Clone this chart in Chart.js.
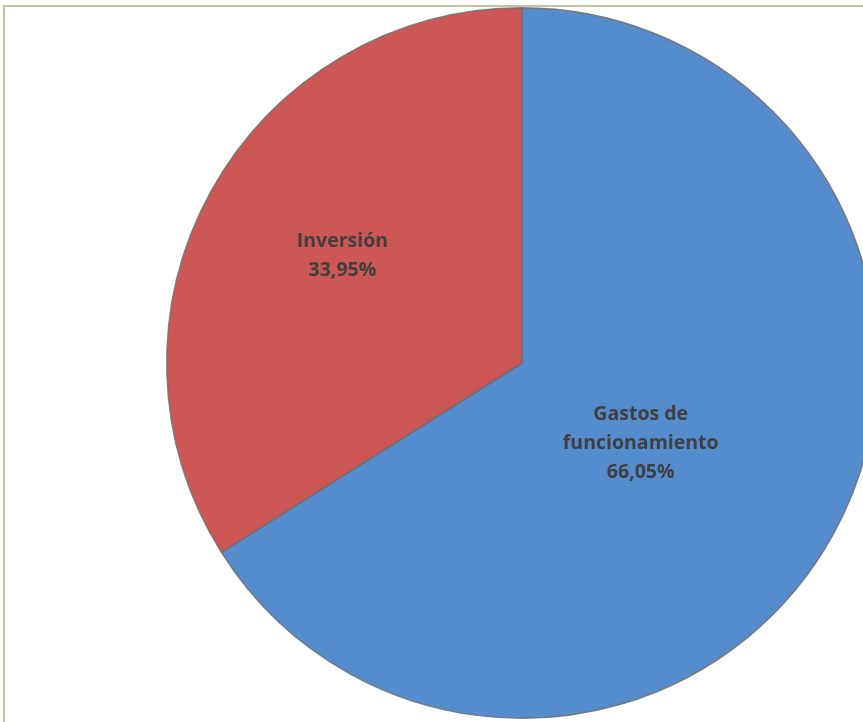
<!DOCTYPE html>
<html>
<head>
<meta charset="utf-8">
<script src="https://cdn.jsdelivr.net/npm/chart.js@4"></script>
<style>
  html, body { margin: 0; padding: 0; background: #fff; overflow: hidden; width: 863px; height: 722px; }
  #marco { position: absolute; left: 3px; top: 5px; width: 1000px; height: 1000px; border-left: 2px solid #c9c2a0; border-top: 2px solid #c9c2a0; }
  #contenedor { position: absolute; left: 0; top: 0; width: 1044px; height: 726px; }
</style>
</head>
<body>
<div id="marco"></div>
<div id="contenedor"><canvas id="torta"></canvas></div>
<script>
// Distribución del presupuesto
const categorias = ['Gastos de funcionamiento', 'Inversión'];
const porcentajes = [66.05, 33.95];
const etiquetas = [['Gastos de', 'funcionamiento', '66,05%'], ['Inversión', '33,95%']];
const colores = ['#558cce', '#cd5755'];

// Etiquetas dentro de cada porción (radio relativo y giro en grados)
const etiquetasPlugin = {
  id: 'etiquetas',
  afterDatasetsDraw(chart, args, opts) {
    const ctx = chart.ctx;
    const meta = chart.getDatasetMeta(0);
    meta.data.forEach((arc, i) => {
      const p = arc.getProps(['x', 'y', 'startAngle', 'endAngle', 'outerRadius'], true);
      const ang = (p.startAngle + p.endAngle) / 2 + opts.giros[i] * Math.PI / 180;
      const r = p.outerRadius * opts.radios[i];
      const x = p.x + Math.cos(ang) * r;
      const y = p.y + Math.sin(ang) * r;
      const lineas = etiquetas[i];
      ctx.save();
      ctx.font = 'bold 19.5px "Open Sans"';
      ctx.fillStyle = '#3f3f3f';
      ctx.textAlign = 'center';
      ctx.textBaseline = 'middle';
      const alto = 29;
      lineas.forEach((t, j) => {
        ctx.fillText(t, x, y + (j - (lineas.length - 1) / 2) * alto);
      });
      ctx.restore();
    });
  }
};

new Chart(document.getElementById('torta'), {
  type: 'pie',
  data: {
    labels: categorias,
    datasets: [{
      data: porcentajes,
      backgroundColor: colores,
      borderColor: 'rgba(110,110,110,0.85)',
      borderWidth: 1.5
    }]
  },
  options: {
    responsive: true,
    maintainAspectRatio: false,
    animation: false,
    layout: { padding: 7 },
    plugins: {
      legend: { display: false },
      tooltip: { enabled: false },
      etiquetas: { radios: [0.404, 0.589], giros: [5.3, 2] }
    }
  },
  plugins: [etiquetasPlugin]
});
</script>
</body>
</html>
